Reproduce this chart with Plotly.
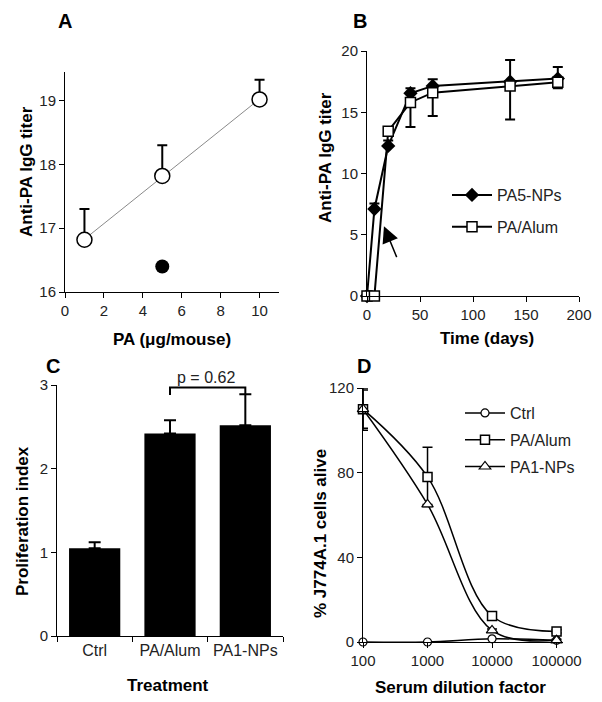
import numpy as np
import plotly.graph_objects as go

W, H = 602, 702          # browser window
OFF = 8                  # page body margin in the browser
FW, FH = W - OFF, H - OFF
FONT = "Liberation Sans, Arial, sans-serif"

# ---------------- data ----------------
# Panel A
pa_dose = [1, 5, 10]
pa_titer = [16.82, 17.82, 19.02]
pa_err = [0.48, 0.48, 0.31]
pa_np_dose = [5]
pa_np_titer = [16.4]

# Panel B
days = [0, 7, 20, 41, 62, 135, 180]
pa5_nps = [0, 7.1, 12.25, 16.55, 17.15, 17.5, 17.75]
pa5_nps_err = [0, 0.45, 0.45, 0.4, 0.55, 1.76, 0.95]
pa_alum = [0, 0, 13.45, 15.8, 16.6, 17.15, 17.45]
pa_alum_err = [0, 0, 0, 2.0, 1.9, 2.75, 0.5]
arrow_head = (16, 5.7)
arrow_tail = (28.6, 3.05)

# Panel C
treatments = ["Ctrl", "PA/Alum", "PA1-NPs"]
prolif = [1.05, 2.42, 2.52]
prolif_err = [0.07, 0.16, 0.37]
p_text = "p = 0.62"
bracket_top = 2.97
bracket_leg = 2.88

# Panel D
dilution = [100, 1000, 10000, 100000]
ctrl_alive = [0, 0, 1.5, 0.8]
alum_alive = [110, 78, 12.3, 5]
alum_alive_err = [10, 14, 1.6, 0.8]
np1_alive = [110, 65, 5.5, 0.8]
np1_alive_err = [9, 0, 0.6, 0.5]


def px(x):
    return (x - OFF) / FW


def py(y):
    return 1 - (y - OFF) / FH


def xd(a, b):
    return [px(a), px(b)]


def yd(top, bottom):
    return [py(bottom), py(top)]


fig = go.Figure()

# ---------- Panel A ----------
coef = np.polyfit(pa_dose, pa_titer, 1)
fit_x = np.array([min(pa_dose), max(pa_dose)])
fig.add_trace(go.Scatter(x=fit_x, y=np.polyval(coef, fit_x), mode="lines",
                         line=dict(color="#8a8a8a", width=1), showlegend=False,
                         xaxis="x", yaxis="y", hoverinfo="skip"))
fig.add_trace(go.Scatter(x=pa_dose, y=pa_titer, mode="markers",
                         marker=dict(symbol="circle", size=15, color="white",
                                     line=dict(color="black", width=1.5)),
                         error_y=dict(type="data", array=pa_err, arrayminus=[0] * len(pa_err),
                                      symmetric=False, color="black", thickness=2, width=5),
                         showlegend=False, cliponaxis=False, xaxis="x", yaxis="y"))
fig.add_trace(go.Scatter(x=pa_np_dose, y=pa_np_titer, mode="markers",
                         marker=dict(symbol="circle", size=14, color="black"),
                         showlegend=False, cliponaxis=False, xaxis="x", yaxis="y"))

# ---------- Panel B ----------
fig.add_trace(go.Scatter(x=days, y=pa5_nps, mode="lines+markers", name="PA5-NPs",
                         line=dict(color="black", width=2),
                         marker=dict(symbol="diamond", size=11, color="black"),
                         error_y=dict(type="data", array=pa5_nps_err, arrayminus=[0] * len(days),
                                      symmetric=False, color="black", thickness=2, width=5),
                         cliponaxis=False, xaxis="x2", yaxis="y2", legend="legend",
                         legendgroup="b1"))
fig.add_trace(go.Scatter(x=days, y=pa_alum, mode="lines+markers", name="PA/Alum",
                         line=dict(color="black", width=2),
                         marker=dict(symbol="square", size=10, color="white",
                                     line=dict(color="black", width=1.5)),
                         error_y=dict(type="data", array=[0] * len(days), arrayminus=pa_alum_err,
                                      symmetric=False, color="black", thickness=2, width=5),
                         cliponaxis=False, xaxis="x2", yaxis="y2", legend="legend",
                         legendgroup="b2"))

# ---------- Panel C ----------
fig.add_trace(go.Bar(x=treatments, y=prolif, marker=dict(color="black", line=dict(width=0)),
                     width=0.68,
                     error_y=dict(type="data", array=prolif_err, arrayminus=[0] * 3,
                                  symmetric=False, color="black", thickness=2, width=6),
                     showlegend=False, xaxis="x3", yaxis="y3"))
fig.add_trace(go.Scatter(x=[treatments[1], treatments[1], treatments[2], treatments[2]],
                         y=[bracket_leg, bracket_top, bracket_top, bracket_leg],
                         mode="lines", line=dict(color="black", width=2),
                         showlegend=False, cliponaxis=False, xaxis="x3", yaxis="y3",
                         hoverinfo="skip"))

# ---------- Panel D ----------
fig.add_trace(go.Scatter(x=dilution, y=ctrl_alive, mode="lines+markers", name="Ctrl",
                         line=dict(color="black", width=1.5, shape="spline"),
                         marker=dict(symbol="circle", size=8, color="white",
                                     line=dict(color="black", width=1.2)),
                         cliponaxis=False, xaxis="x4", yaxis="y4", legend="legend2",
                         legendgroup="d1"))
fig.add_trace(go.Scatter(x=dilution, y=alum_alive, mode="lines+markers", name="PA/Alum",
                         line=dict(color="black", width=1.5, shape="spline"),
                         marker=dict(symbol="square", size=9, color="white",
                                     line=dict(color="black", width=1.5)),
                         error_y=dict(type="data", array=alum_alive_err, color="black",
                                      thickness=1.5, width=5),
                         cliponaxis=False, xaxis="x4", yaxis="y4", legend="legend2",
                         legendgroup="d2"))
fig.add_trace(go.Scatter(x=dilution, y=np1_alive, mode="lines+markers", name="PA1-NPs",
                         line=dict(color="black", width=1.5, shape="spline"),
                         marker=dict(symbol="triangle-up", size=10, color="white",
                                     line=dict(color="black", width=1.2)),
                         error_y=dict(type="data", array=np1_alive_err, color="black",
                                      thickness=1.5, width=5),
                         cliponaxis=False, xaxis="x4", yaxis="y4", legend="legend2",
                         legendgroup="d3"))

tickfont = dict(family=FONT, size=15, color="#222")
axis_common = dict(showline=True, linecolor="black", linewidth=1, ticks="outside",
                   ticklen=5, tickcolor="black", tickwidth=1, showgrid=False,
                   zeroline=False, tickfont=tickfont, fixedrange=True, automargin=False)

fig.update_layout(
    template="none",
    width=FW, height=FH, margin=dict(l=0, r=0, t=0, b=0, pad=0, autoexpand=False),
    paper_bgcolor="white", plot_bgcolor="white",
    font=dict(family=FONT, color="black"),
    xaxis=dict(domain=xd(65, 279), range=[0, 11], tickvals=[0, 2, 4, 6, 8, 10],
               anchor="y", **axis_common),
    yaxis=dict(domain=yd(72, 292), range=[16, 19.45], tickvals=[16, 17, 18, 19],
               anchor="x", **axis_common),
    xaxis2=dict(domain=xd(367, 579), range=[0, 200], tickvals=[0, 50, 100, 150, 200],
                anchor="y2", **axis_common),
    yaxis2=dict(domain=yd(51, 296), range=[0, 20], tickvals=[0, 5, 10, 15, 20],
                anchor="x2", **axis_common),
    xaxis3=dict(domain=xd(57, 283), range=[-0.5, 2.5], type="category",
                tickson="boundaries", anchor="y3",
                **{**axis_common, "tickfont": dict(family=FONT, size=16, color="#222")}),
    yaxis3=dict(domain=yd(385, 636), range=[0, 3], tickvals=[0, 1, 2, 3],
                anchor="x3", **axis_common),
    xaxis4=dict(domain=xd(363, 563), type="log", range=[2, 5.1],
                tickvals=dilution, ticktext=[str(v) for v in dilution],
                anchor="y4", **axis_common),
    yaxis4=dict(domain=yd(388, 642), range=[0, 120], tickvals=[0, 40, 80, 120],
                anchor="x4", **axis_common),
    bargap=0.32,
    legend=dict(x=px(447), y=py(178), xanchor="left", yanchor="top",
                bgcolor="rgba(0,0,0,0)", borderwidth=0, itemwidth=40,
                font=dict(family=FONT, size=16, color="#222"),
                tracegroupgap=8, traceorder="grouped"),
    legend2=dict(x=px(460), y=py(396), xanchor="left", yanchor="top",
                 bgcolor="rgba(0,0,0,0)", borderwidth=0, itemwidth=40,
                 font=dict(family=FONT, size=16, color="#222"),
                 tracegroupgap=3, traceorder="grouped"),
)

title_font = dict(family=FONT, size=17, color="black")
letter_font = dict(family=FONT, size=20, color="black")


def add_text(text, x, y, font, angle=0):
    fig.add_annotation(text=text, x=px(x), y=py(y), xref="paper", yref="paper",
                       showarrow=False, font=font, textangle=angle,
                       xanchor="center", yanchor="middle")


# panel letters
add_text("<b>A</b>", 65, 21, letter_font)
add_text("<b>B</b>", 360, 21, letter_font)
add_text("<b>C</b>", 53, 366, letter_font)
add_text("<b>D</b>", 364, 366, letter_font)

# axis titles
add_text("<b>PA (μg/mouse)</b>", 172, 339, title_font)
add_text("<b>Anti-PA IgG titer</b>", 26, 172, title_font, angle=-90)
add_text("<b>Time (days)</b>", 487, 338, title_font)
add_text("<b>Anti-PA IgG titer</b>", 325, 158, title_font, angle=-90)
add_text("<b>Treatment</b>", 168, 685, title_font)
add_text("<b>Proliferation index</b>", 22, 521, title_font, angle=-90)
add_text("<b>Serum dilution factor</b>", 460, 687, title_font)
add_text("<b>% J774A.1 cells alive</b>", 320, 534, title_font, angle=-90)

# p-value text
add_text(p_text, 206, 377, dict(family=FONT, size=16, color="#222"))

# arrow in panel B
fig.add_annotation(x=arrow_head[0], y=arrow_head[1], ax=arrow_tail[0], ay=arrow_tail[1],
                   xref="x2", yref="y2", axref="x2", ayref="y2", showarrow=True,
                   arrowhead=2, arrowsize=2.2, arrowwidth=1.5, arrowcolor="black", text="")

fig.write_html("out.html")
